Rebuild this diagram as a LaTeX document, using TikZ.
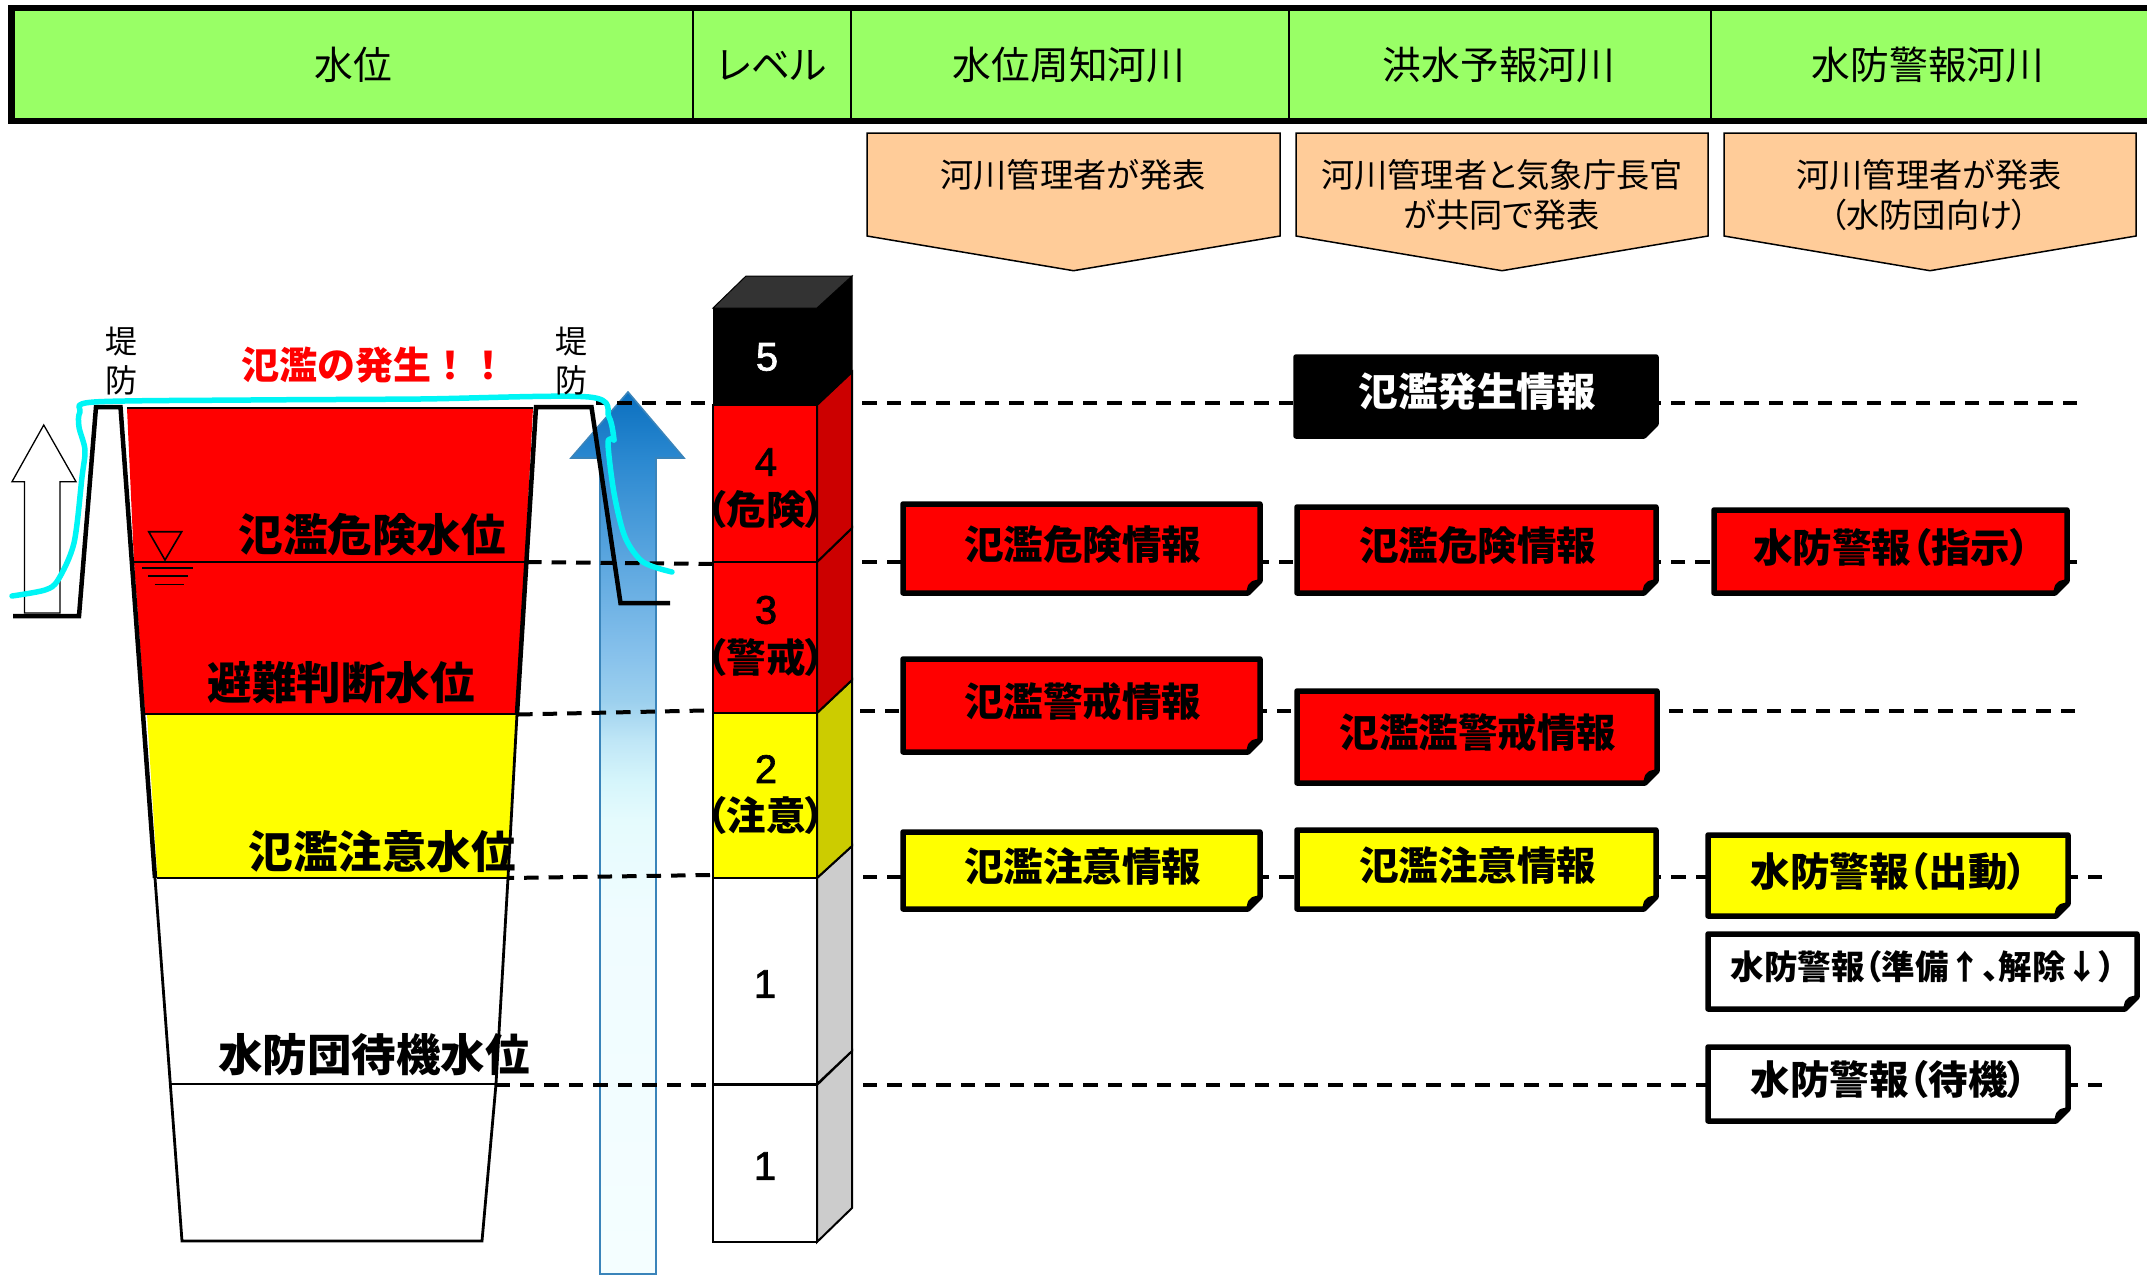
\documentclass[tikz,border=0pt]{standalone}
\usepackage{fontspec}
\setmainfont{Noto Sans CJK JP}[RawFeature=+palt]
\newfontfamily\jpfull{Noto Sans CJK JP}
\newfontfamily\digitfont{Liberation Sans}[FakeBold=1.6]
\definecolor{hdrgreen}{HTML}{99FF66}
\definecolor{callout}{HTML}{FFCC99}
\definecolor{pureyellow}{RGB}{255,255,0}
\definecolor{purered}{RGB}{255,0,0}
\definecolor{darkred}{HTML}{CC0000}
\definecolor{darkyellow}{HTML}{CCCC00}
\definecolor{sidegrey}{HTML}{CCCCCC}
\definecolor{topgrey}{HTML}{333333}
\definecolor{flood}{HTML}{00F5F5}
\definecolor{arrowedge}{HTML}{3A84BA}
\definecolor{rsa}{HTML}{F4FEFF}
\definecolor{rsb}{HTML}{F0FCFF}
\definecolor{rsc}{HTML}{E5FBFD}
\definecolor{rsd}{HTML}{D5F5FB}
\definecolor{rse}{HTML}{BFE6F6}
\definecolor{rsf}{HTML}{9CD0EE}
\definecolor{rsg}{HTML}{85C0EB}
\definecolor{rsh}{HTML}{5BA6DF}
\definecolor{rsi}{HTML}{2A88D0}
\definecolor{rsj}{HTML}{0A6FBF}
\pgfdeclareverticalshading{riseshade}{100bp}{
  color(0bp)=(rsa);
  color(25bp)=(rsa);
  color(45bp)=(rsb);
  color(50.75bp)=(rsc);
  color(53bp)=(rsd);
  color(55.25bp)=(rse);
  color(57.5bp)=(rsf);
  color(60.35bp)=(rsg);
  color(65.5bp)=(rsh);
  color(71.25bp)=(rsi);
  color(75bp)=(rsj);
  color(100bp)=(rsj)}
\tikzset{
  hdrtext/.style={font=\fontsize{38.7}{44}\selectfont,anchor=center,inner sep=0pt},
  notetext/.style={font=\fontsize{33.2}{39.5}\selectfont,anchor=center,align=center,inner sep=0pt},
  levelname/.style={font=\fontsize{44.5}{50}\selectfont\bfseries,anchor=center,inner sep=0pt},
  dikelabel/.style={font=\fontsize{32}{32}\selectfont,anchor=center,inner sep=0pt},
  cubenum/.style={font=\fontsize{40}{46}\selectfont\digitfont,anchor=center,inner sep=0pt},
  cubeword/.style={font=\fontsize{39.5}{44}\selectfont\bfseries,anchor=center,inner sep=0pt},
  dike/.style={draw=black,line width=4.5pt,line join=miter},
  thinwall/.style={draw=black,line width=2.8pt,line join=miter},
  level/.style={dash pattern=on 14.5pt off 10pt,line width=4pt,draw=black},
  cubeedge/.style={draw=black,line width=2pt,line join=miter},
}
% name, x1,y1,x2,y2 (outer edges), fill, textcolour, size, text
\newcommand{\foldbox}[9]{%
  \draw[line width=5.5pt,line join=round,fill=#6]
    ({#2+2},{#3+2}) -- ({#4-2},{#3+2}) -- ({#4-2},{#5-14}) -- ({#4-14},{#5-2}) -- ({#2+2},{#5-2}) -- cycle;
  \fill[black,rounded corners=1pt] ({#4-16},{#5-2}) -- ({#4-2},{#5-16}) -- ({#4-10},{#5-14}) -- ({#4-14},{#5-10}) -- cycle;
  \node[text=#7,font=\fontsize{#8}{#8}\selectfont\bfseries,anchor=center,inner sep=0pt] (#1) at ({(#2+#4)/2+1},{(#3+#5)/2-4.5}) {#9};
}
% callout: x1,x2
\newcommand{\calloutshape}[2]{%
  \draw[draw=black,line width=1.5pt,fill=callout,line join=miter]
    (#1,133) -- (#2,133) -- (#2,236) -- ({(#1+#2)/2},270.7) -- (#1,236) -- cycle;
}
\begin{document}
\begin{tikzpicture}[x=1pt,y=-1pt]
\useasboundingbox (0,0) rectangle (2147,1275);
\fill[white] (0,0) rectangle (2147,1275);
% header
\draw[line width=6.5pt,fill=hdrgreen] (11.5,8) rectangle (2155,121);
\draw[line width=2.2pt] (693,8) -- (693,121) (851,8) -- (851,121) (1288.7,8) -- (1288.7,121) (1710.7,8) -- (1710.7,121);
\node[hdrtext] (h1) at (353,65) {水位};
\node[hdrtext] (h2) at (772,65) {レベル};
\node[hdrtext] (h3) at (1069,65) {水位周知河川};
\node[hdrtext] (h4) at (1499,65) {洪水予報河川};
\node[hdrtext] (h5) at (1928,65) {水防警報河川};
% callouts
\calloutshape{867}{1280}
\calloutshape{1296}{1708}
\calloutshape{1724}{2136}
\node[notetext] (c1) at (1073,175) {河川管理者が発表};
\node[notetext] (c2) at (1502,195) {河川管理者と気象庁長官\\が共同で発表};
\node[notetext] (c3) at (1929,195) {河川管理者が発表\\（水防団向け）};
% tank water
\fill[purered] (127,408) -- (533,408) -- (525,562) -- (134,562) -- cycle;
\fill[purered] (134,562) -- (527,562) -- (517,714) -- (145,714) -- cycle;
\fill[pureyellow] (147,714) -- (517,714) -- (508,878) -- (157.5,878) -- cycle;
% rising arrow
\draw[arrowedge,line width=1.6pt,shading=riseshade]
  (628,392) -- (684,458) -- (656,458) -- (656,1274) -- (600,1274) -- (600,458) -- (571,458) -- cycle;
% dashed level lines
\coordinate (a1) at (596,403); \coordinate (b1) at (2077,403);
\coordinate (a2) at (527,562); \coordinate (m2) at (713,564);
\coordinate (c2r) at (852,562); \coordinate (b2) at (2077,562);
\coordinate (a3) at (518,714.5); \coordinate (m3) at (704,710.5);
\coordinate (c3r) at (852,711); \coordinate (b3) at (2075,711);
\coordinate (a4) at (509,878); \coordinate (m4) at (710,875);
\coordinate (c4r) at (852,877); \coordinate (b4) at (2102,877);
\coordinate (a5) at (493,1084.5); \coordinate (b5) at (2102,1084.5);
\draw[level] (b1) -- (a1);
\draw[level] (m2) -- (a2);
\draw[level] (b2) -- (c2r);
\draw[level] (m3) -- (a3);
\draw[level] (b3) -- (c3r);
\draw[level] (m4) -- (a4);
\draw[level] (b4) -- (c4r);
\draw[level] (b5) -- (a5);
% tank lines
\draw[line width=2pt] (134,562) -- (527,562);
\draw[line width=1.6pt] (145,714) -- (517,714);
\draw[line width=1.6pt] (157,878) -- (508,878);
\draw[line width=1.6pt] (169,1084) -- (496,1084);
\draw[line width=2pt] (127,408) -- (533,408);
\draw[dike] (13,616) -- (79,616) -- (96,407) -- (120.5,407) -- (155,878);
\draw[dike] (517,714) -- (536,407) -- (591.5,407) -- (620.5,603) -- (670,603);
\draw[thinwall] (155,878) -- (182,1241) -- (482,1241) -- (496,1084) -- (508,878) -- (517,714);
% water mark
\draw[line width=1.6pt] (148.7,531.7) -- (181.7,531.7) -- (165,560) -- cycle;
\draw[line width=1.6pt] (142,567.7) -- (193,567.7) (148,576) -- (187.5,576) (154.5,584.3) -- (184,584.3);
% white arrow
\draw[line width=1.3pt,fill=white] (43.75,425) -- (76,481.7) -- (60,481.7) -- (60,613) -- (24.5,613) -- (24.5,481.7) -- (12,481.7) -- cycle;
\draw[line width=4.5pt] (13,616) -- (79,616);
% flood curve
\draw[flood,line width=5.5pt,line cap=round,line join=round] plot[smooth,tension=0.5] coordinates {
 (12,596) (45,590) (58,580) (74,543) (82,477) (85,450) (79,427) (80,412) (94,402) (250,400) (420,399) (589,397) (609,417) (614,440)};
\draw[flood,line width=5.5pt,line cap=round,line join=round] plot[smooth,tension=0.5] coordinates {
 (614,440) (608,443) (614,493) (625,537) (643,562) (672,572)};
% tank labels
\node[dikelabel] (d1a) at (121,342) {堤};
\node[dikelabel] (d1b) at (121,380) {防};
\node[dikelabel] (d2a) at (571,342) {堤};
\node[dikelabel] (d2b) at (571,380) {防};
\node[text=purered,font=\fontsize{38}{38}\selectfont\jpfull\bfseries,inner sep=0pt] (ov) at (374.5,365) {氾濫の発生！！};
\node[levelname] (w1) at (372,535) {氾濫危険水位};
\node[levelname] (w2) at (341,683) {避難判断水位};
\node[levelname] (w3) at (382,852) {氾濫注意水位};
\node[levelname] (w4) at (374,1055) {水防団待機水位};
% cube
\filldraw[cubeedge,fill=white] (713,1085) rectangle (817,1242);
\filldraw[cubeedge,fill=sidegrey] (817,1085) -- (852,1051) -- (852,1208) -- (817,1242) -- cycle;
\filldraw[cubeedge,fill=white] (713,878) rectangle (817,1084);
\filldraw[cubeedge,fill=sidegrey] (817,878) -- (852,846) -- (852,1051) -- (817,1084) -- cycle;
\filldraw[cubeedge,fill=pureyellow] (713,713) rectangle (817,878);
\filldraw[cubeedge,fill=darkyellow] (817,713) -- (852,680) -- (852,846) -- (817,878) -- cycle;
\filldraw[cubeedge,fill=purered] (713,562) rectangle (817,713);
\filldraw[cubeedge,fill=darkred] (817,562) -- (852,528) -- (852,680) -- (817,713) -- cycle;
\filldraw[cubeedge,fill=purered] (713,405) rectangle (817,562);
\filldraw[cubeedge,fill=darkred] (817,405) -- (852,372) -- (852,528) -- (817,562) -- cycle;
\filldraw[draw=black,line width=1pt,fill=black] (713,308) rectangle (817,405);
\filldraw[draw=black,line width=1pt,fill=black] (817,405) -- (852,372) -- (852,276) -- (817,308) -- cycle;
\filldraw[draw=black,line width=1pt,fill=topgrey] (713,308) -- (746,276) -- (852,276) -- (817,308) -- cycle;
\node[cubenum,text=white] (n5) at (767,357) {5};
\node[cubenum] (n4) at (766,462) {4};
\node[cubeword] (t4) at (766,509) {（危険）};
\node[cubenum] (n3) at (766,610) {3};
\node[cubeword] (t3) at (766,657) {（警戒）};
\node[cubenum] (n2) at (766,769) {2};
\node[cubeword] (t2) at (766,815) {（注意）};
\node[cubenum] (n1b) at (765,984) {1};
\node[cubenum] (n1a) at (765,1166) {1};
% boxes
\foldbox{r1}{1294}{355}{1658}{438}{black}{white}{39.5}{氾濫発生情報}
\foldbox{r2a}{901}{502}{1262}{595}{purered}{black}{39.5}{氾濫危険情報}
\foldbox{r2b}{1295}{505}{1658}{595}{purered}{black}{39.5}{氾濫危険情報}
\foldbox{r2c}{1712}{508}{2069}{595}{purered}{black}{39.5}{水防警報（指示）}
\foldbox{r3a}{901}{657}{1262}{754}{purered}{black}{39.5}{氾濫警戒情報}
\foldbox{r3b}{1295}{689}{1659}{785}{purered}{black}{39.5}{氾濫濫警戒情報}
\foldbox{r4a}{901}{830}{1262}{911}{pureyellow}{black}{39.5}{氾濫注意情報}
\foldbox{r4b}{1295}{828}{1658}{911}{pureyellow}{black}{39.5}{氾濫注意情報}
\foldbox{r4c}{1706}{833}{2070}{918}{pureyellow}{black}{39.5}{水防警報（出動）}
\foldbox{r5}{1706}{932}{2139}{1011}{white}{black}{33.5}{水防警報（準備{\jpfull\bfseries ↑}、解除{\jpfull\bfseries ↓}）}
\foldbox{r6}{1706}{1045}{2070}{1123}{white}{black}{39.5}{水防警報（待機）}
\end{tikzpicture}
\end{document}
